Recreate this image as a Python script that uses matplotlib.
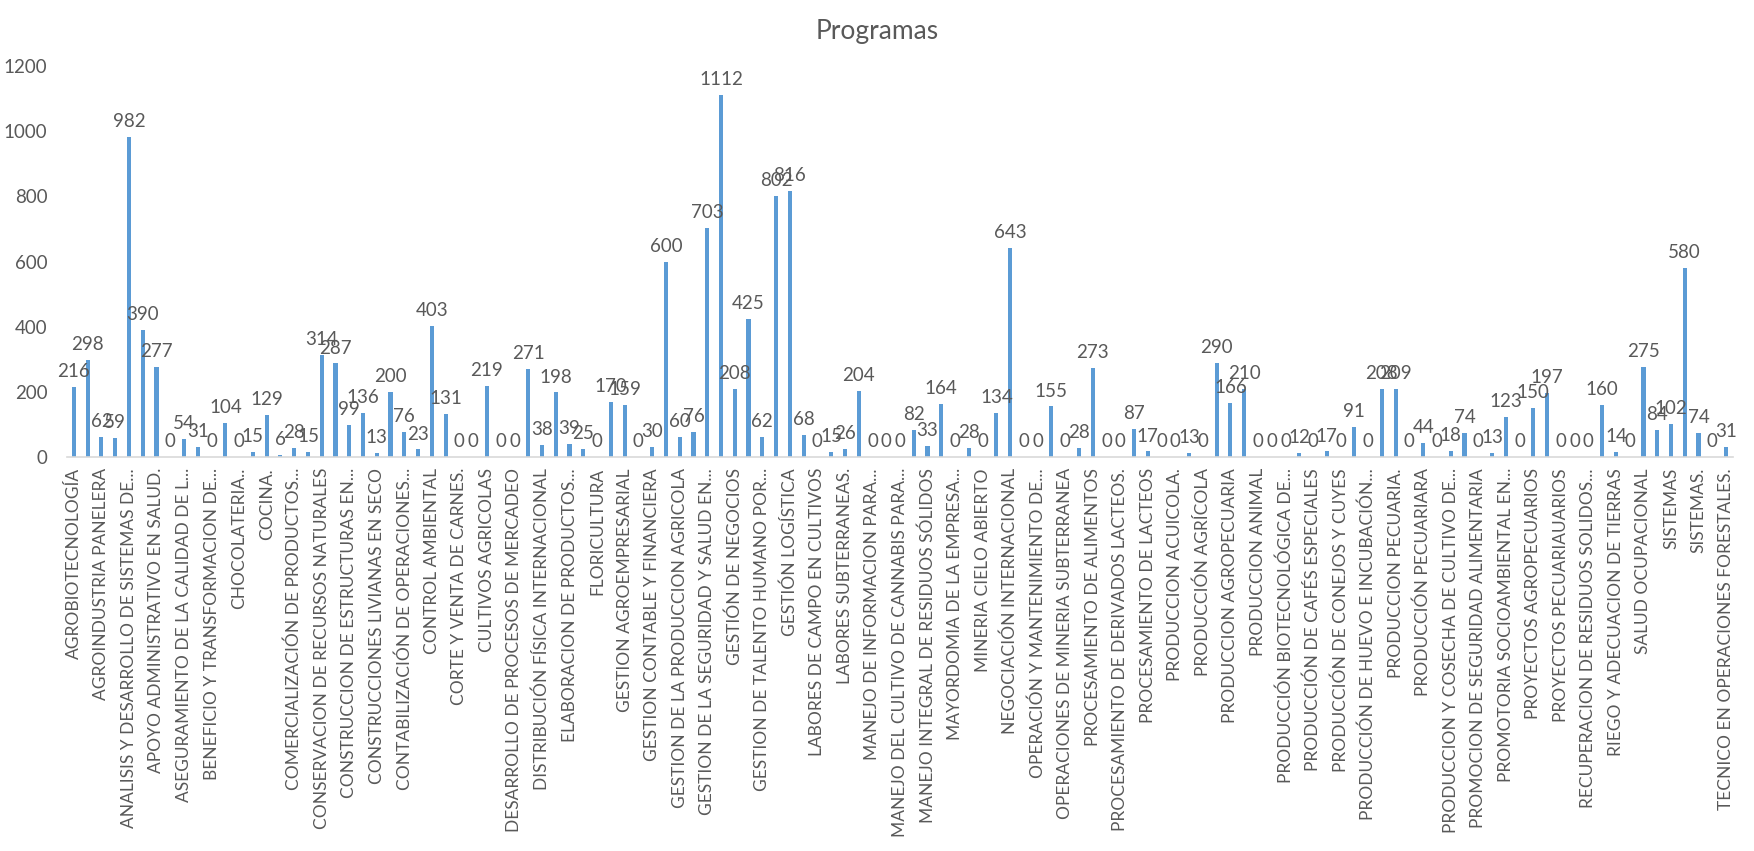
import matplotlib
matplotlib.use("Agg")
import matplotlib.pyplot as plt
import numpy as np

title = "Programas"

# Visible category labels (every other category is labelled in the reference)
labels = [
    "AGROBIOTECNOLOGÍA", "AGROINDUSTRIA PANELERA", "ANALISIS Y DESARROLLO DE SISTEMAS DE...",
    "APOYO ADMINISTRATIVO EN SALUD.", "ASEGURAMIENTO DE LA CALIDAD DE L...",
    "BENEFICIO Y TRANSFORMACION DE...", "CHOCOLATERIA..", "COCINA.",
    "COMERCIALIZACIÓN DE PRODUCTOS...", "CONSERVACION DE RECURSOS NATURALES",
    "CONSTRUCCION DE ESTRUCTURAS EN...", "CONSTRUCCIONES LIVIANAS EN SECO",
    "CONTABILIZACIÓN DE OPERACIONES...", "CONTROL AMBIENTAL", "CORTE Y VENTA DE CARNES.",
    "CULTIVOS AGRICOLAS", "DESARROLLO DE PROCESOS DE MERCADEO",
    "DISTRIBUCIÓN FÍSICA INTERNACIONAL", "ELABORACION DE PRODUCTOS...", "FLORICULTURA",
    "GESTION AGROEMPRESARIAL", "GESTION CONTABLE Y FINANCIERA",
    "GESTION DE LA PRODUCCION AGRICOLA", "GESTION DE LA SEGURIDAD Y SALUD EN...",
    "GESTIÓN DE NEGOCIOS", "GESTION DE TALENTO HUMANO POR...", "GESTIÓN LOGÍSTICA",
    "LABORES DE CAMPO EN CULTIVOS", "LABORES SUBTERRANEAS.", "MANEJO DE INFORMACION PARA...",
    "MANEJO DEL CULTIVO DE CANNABIS PARA...", "MANEJO INTEGRAL DE RESIDUOS SÓLIDOS",
    "MAYORDOMIA DE LA EMPRESA...", "MINERIA CIELO ABIERTO", "NEGOCIACIÓN INTERNACIONAL",
    "OPERACIÓN Y MANTENIMIENTO DE...", "OPERACIONES DE MINERIA SUBTERRANEA",
    "PROCESAMIENTO DE ALIMENTOS", "PROCESAMIENTO DE DERIVADOS LACTEOS.",
    "PROCESAMIENTO DE LACTEOS", "PRODUCCION ACUICOLA.", "PRODUCCIÓN AGRÍCOLA",
    "PRODUCCION AGROPECUARIA", "PRODUCCION ANIMAL", "PRODUCCIÓN BIOTECNOLÓGICA DE...",
    "PRODUCCIÓN DE CAFÉS ESPECIALES", "PRODUCCIÓN DE CONEJOS Y CUYES",
    "PRODUCCIÓN DE HUEVO E INCUBACIÓN...", "PRODUCCION PECUARIA.", "PRODUCCIÓN PECUARIARA",
    "PRODUCCION Y COSECHA DE CULTIVO DE...", "PROMOCION DE SEGURIDAD ALIMENTARIA",
    "PROMOTORIA SOCIOAMBIENTAL EN...", "PROYECTOS AGROPECUARIOS", "PROYECTOS PECUARIAUARIOS",
    "RECUPERACION DE RESIDUOS SOLIDOS...", "RIEGO Y ADECUACION DE TIERRAS",
    "SALUD OCUPACIONAL", "SISTEMAS", "SISTEMAS.", "TECNICO EN OPERACIONES FORESTALES.",
]

values = [
    216, 298, 62, 59, 982, 390, 277, 0, 54, 31,
    0, 104, 0, 15, 129, 6, 28, 15, 314, 287,
    99, 136, 13, 200, 76, 23, 403, 131, 0, 0,
    219, 0, 0, 271, 38, 198, 39, 25, 0, 170,
    159, 0, 30, 600, 60, 76, 703, 1112, 208, 425,
    62, 802, 816, 68, 0, 15, 26, 204, 0, 0,
    0, 82, 33, 164, 0, 28, 0, 134, 643, 0,
    0, 155, 0, 28, 273, 0, 0, 87, 17, 0,
    0, 13, 0, 290, 166, 210, 0, 0, 0, 12,
    0, 17, 0, 91, 0, 208, 209, 0, 44, 0,
    18, 74, 0, 13, 123, 0, 150, 197, 0, 0,
    0, 160, 14, 0, 275, 84, 102, 580, 74, 0,
    31,
]

yticks = [0, 200, 400, 600, 800, 1000, 1200]

FONT = ["Lato", "DejaVu Sans"]
TXT = "#595959"
BAR = "#5B9BD5"

plt.rcParams["font.family"] = FONT

fig = plt.figure(figsize=(17.54, 8.51), dpi=100)
ax = fig.add_axes([0.0382, 0.463, 0.988 - 0.0382, 0.9224 - 0.463])

x = np.arange(len(values))
bars = ax.bar(x, values, width=0.3, color=BAR, zorder=2)

for xi, v in zip(x, values):
    ax.annotate(str(v), (xi, v), xytext=(0, 5), textcoords="offset points",
                ha="center", va="bottom", fontsize=13.5, color=TXT)

ax.set_xlim(-0.5, len(values) - 0.5)
ax.set_ylim(0, 1200)
ax.set_yticks(yticks)
ax.set_yticklabels([str(t) for t in yticks], fontsize=13.5, color=TXT)
ax.set_xticks(x[::2])
ax.set_xticklabels(labels, rotation=90, fontsize=12.5, color=TXT)
ax.tick_params(axis="both", length=0)
ax.tick_params(axis="y", pad=14)
ax.tick_params(axis="x", pad=8)

for s in ["top", "right", "left"]:
    ax.spines[s].set_visible(False)
ax.spines["bottom"].set_color("#D9D9D9")
ax.spines["bottom"].set_linewidth(1.2)

fig.text(0.5, 0.978, title, ha="center", va="top", fontsize=19, color=TXT)

fig.savefig("out.png", dpi=100)
